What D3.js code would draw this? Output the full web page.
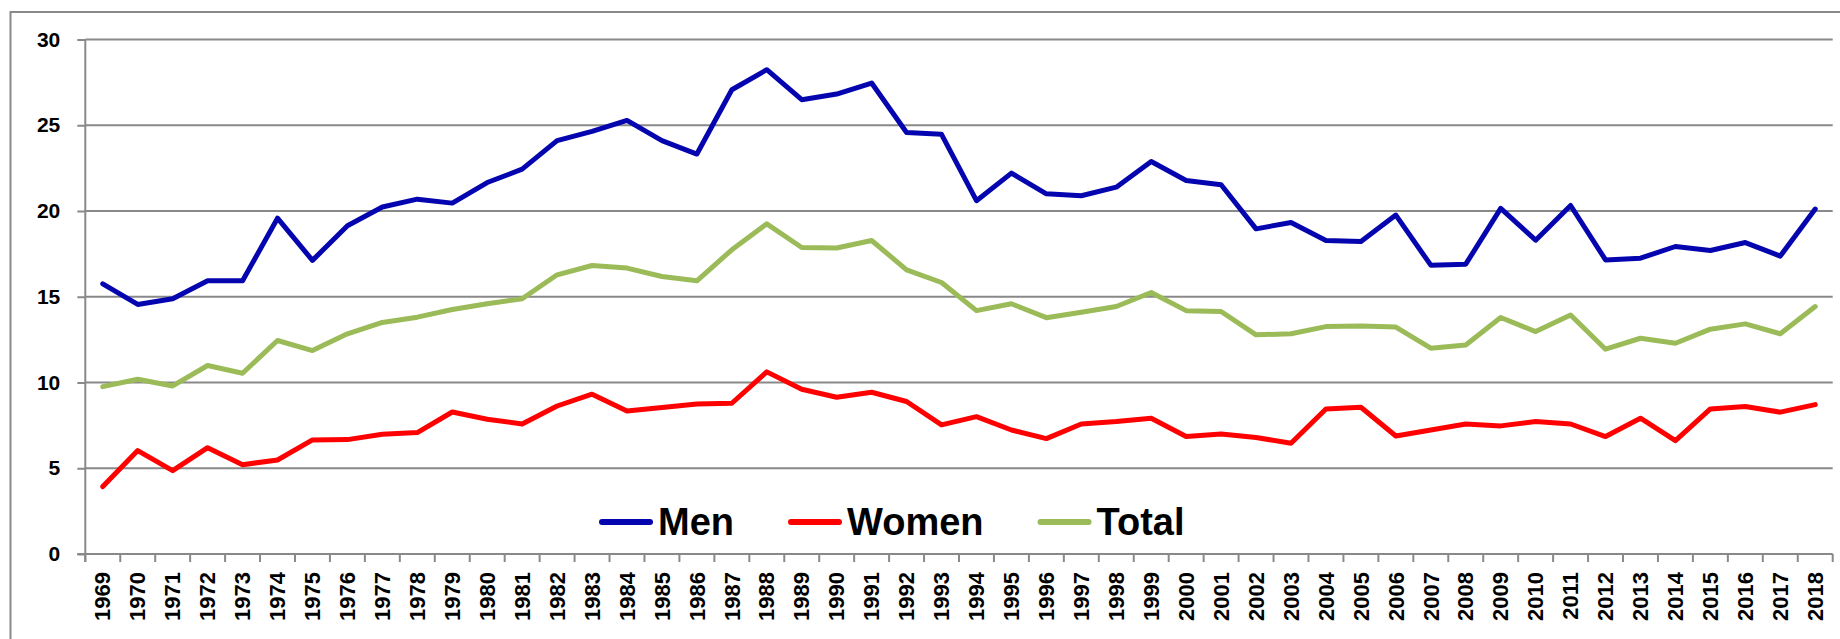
<!DOCTYPE html>
<html>
<head>
<meta charset="utf-8">
<script src="https://cdn.jsdelivr.net/npm/d3@7"></script>
<style>
  html, body { margin: 0; padding: 0; background: #fff; }
  svg { display: block; }
</style>
</head>
<body>
<svg id="chart" width="1840" height="639"></svg>
<script>
// ---------- DATA ----------
const years = ["1969","1970","1971","1972","1973","1974","1975","1976","1977","1978",
  "1979","1980","1981","1982","1983","1984","1985","1986","1987","1988",
  "1989","1990","1991","1992","1993","1994","1995","1996","1997","1998",
  "1999","2000","2001","2002","2003","2004","2005","2006","2007","2008",
  "2009","2010","2011","2012","2013","2014","2015","2016","2017","2018"];

const men = [15.75, 14.55, 14.88, 15.93, 15.93, 19.58, 17.12, 19.14, 20.23, 20.69,
  20.46, 21.66, 22.44, 24.1, 24.64, 25.28, 24.1, 23.32, 27.07, 28.24,
  26.49, 26.82, 27.46, 24.58, 24.47, 20.6, 22.21, 21.0, 20.89, 21.39,
  22.89, 21.78, 21.53, 18.96, 19.33, 18.28, 18.22, 19.76, 16.84, 16.9,
  20.15, 18.3, 20.32, 17.15, 17.25, 17.93, 17.7, 18.16, 17.37, 20.11];

const women = [3.93, 6.03, 4.86, 6.2, 5.21, 5.48, 6.65, 6.67, 6.98, 7.08,
  8.28, 7.86, 7.58, 8.63, 9.32, 8.34, 8.54, 8.75, 8.79, 10.62,
  9.61, 9.14, 9.43, 8.89, 7.53, 8.01, 7.23, 6.73, 7.58, 7.72,
  7.92, 6.85, 7.0, 6.79, 6.46, 8.46, 8.56, 6.88, 7.23, 7.58,
  7.47, 7.72, 7.58, 6.85, 7.92, 6.61, 8.46, 8.6, 8.27, 8.71];

const total = [9.76, 10.19, 9.8, 10.99, 10.54, 12.45, 11.86, 12.84, 13.5, 13.81,
  14.26, 14.59, 14.88, 16.28, 16.82, 16.67, 16.18, 15.93, 17.74, 19.25,
  17.87, 17.84, 18.28, 16.57, 15.83, 14.19, 14.59, 13.78, 14.1, 14.43,
  15.25, 14.19, 14.14, 12.78, 12.84, 13.26, 13.3, 13.23, 12.0, 12.19,
  13.79, 12.97, 13.94, 11.94, 12.58, 12.29, 13.11, 13.42, 12.84, 14.43];

const seriesNames = ["Men", "Women", "Total"];
const seriesColors = ["#0505B0", "#FF0000", "#9BBB59"];
const yTicks = [0, 5, 10, 15, 20, 25, 30];

// ---------- LAYOUT ----------
const W = 1840, H = 639;
const plot = { left: 85.3, right: 1832.7, top: 39.5, bottom: 554 };
const gridColor = "#898989";
const svg = d3.select("#chart");

// outer frame
svg.append("rect")
  .attr("x", 10.5).attr("y", 12).attr("width", 1900).attr("height", 700)
  .attr("fill", "none").attr("stroke", gridColor).attr("stroke-width", 2);

const x = d3.scaleBand().domain(years).range([plot.left, plot.right]).paddingInner(0).paddingOuter(0);
const y = d3.scaleLinear().domain([0, 30]).range([plot.bottom, plot.top]);

// gridlines
svg.append("g").selectAll("line").data(yTicks.filter(d => d > 0)).join("line")
  .attr("x1", plot.left).attr("x2", plot.right)
  .attr("y1", d => y(d)).attr("y2", d => y(d))
  .attr("stroke", gridColor).attr("stroke-width", 2);

// y axis
const yAxis = svg.append("g")
  .attr("transform", `translate(${plot.left},0)`)
  .call(d3.axisLeft(y).tickValues(yTicks).tickSize(8).tickPadding(17).tickSizeOuter(0));
yAxis.select(".domain").attr("stroke", gridColor).attr("stroke-width", 2)
  .attr("d", `M0,${plot.top}V${plot.bottom + 8}`);
yAxis.selectAll(".tick line").attr("stroke", gridColor).attr("stroke-width", 2);
yAxis.selectAll(".tick text")
  .attr("font-family", "'Liberation Sans', Arial, sans-serif")
  .attr("font-weight", "bold").attr("font-size", 21).attr("fill", "#000");

// x axis line
svg.append("line")
  .attr("x1", plot.left - 8).attr("x2", plot.right)
  .attr("y1", plot.bottom).attr("y2", plot.bottom)
  .attr("stroke", gridColor).attr("stroke-width", 2);

// x ticks at band boundaries
const boundaries = years.map(d => x(d)).concat([x(years[years.length - 1]) + x.bandwidth()]);
svg.append("g").selectAll("line").data(boundaries).join("line")
  .attr("x1", d => d).attr("x2", d => d)
  .attr("y1", plot.bottom).attr("y2", plot.bottom + 8)
  .attr("stroke", gridColor).attr("stroke-width", 2);

// x labels
svg.append("g").selectAll("text").data(years).join("text")
  .attr("transform", d => `translate(${x(d) + x.bandwidth() / 2},${plot.bottom + 18}) rotate(-90)`)
  .attr("text-anchor", "end").attr("dy", "0.35em")
  .attr("font-family", "'Liberation Sans', Arial, sans-serif")
  .attr("font-weight", "bold").attr("font-size", 22).attr("fill", "#000")
  .text(d => d);

// lines
const line = d3.line()
  .x((d, i) => x(years[i]) + x.bandwidth() / 2)
  .y(d => y(d));

[men, women, total].forEach((vals, k) => {
  svg.append("path")
    .datum(vals)
    .attr("d", line)
    .attr("fill", "none")
    .attr("stroke", seriesColors[k])
    .attr("stroke-width", 5)
    .attr("stroke-linejoin", "round")
    .attr("stroke-linecap", "round");
});

// legend
const legend = svg.append("g");
let lx = 599;
const ly = 522;
seriesNames.forEach((name, k) => {
  legend.append("line")
    .attr("x1", lx + 3).attr("x2", lx + 51)
    .attr("y1", ly).attr("y2", ly)
    .attr("stroke", seriesColors[k]).attr("stroke-width", 6)
    .attr("stroke-linecap", "round");
  const t = legend.append("text")
    .attr("x", lx + 59).attr("y", 535)
    .attr("font-family", "'Liberation Sans', Arial, sans-serif")
    .attr("font-weight", "bold").attr("font-size", 38).attr("fill", "#000")
    .text(name);
  const w = t.node().getComputedTextLength();
  lx = lx + 59 + w + 54;
});
</script>
</body>
</html>
